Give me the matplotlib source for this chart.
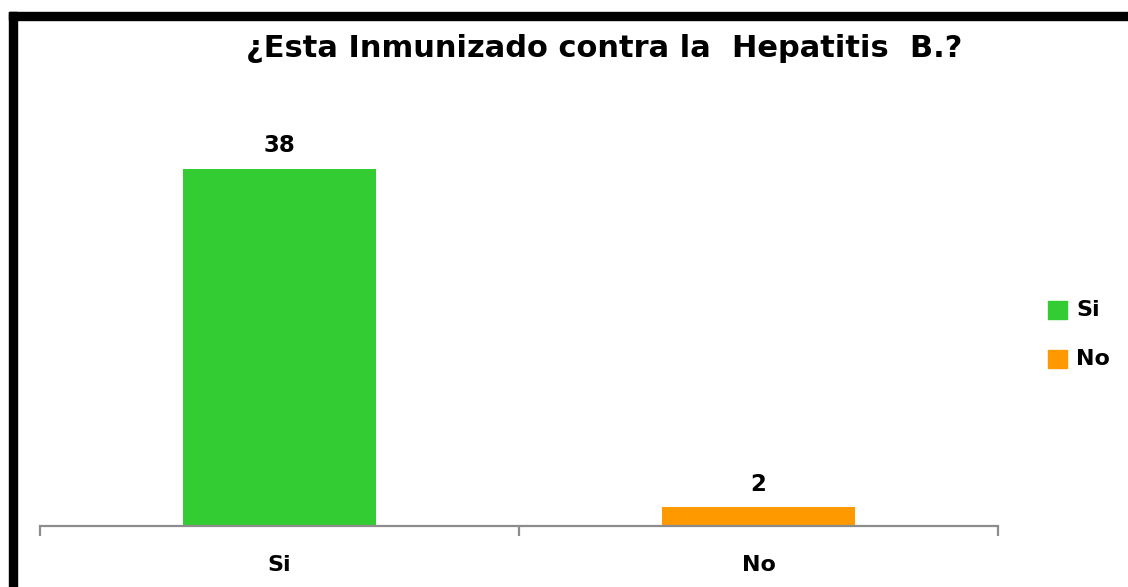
import matplotlib
matplotlib.use('Agg')
import matplotlib.pyplot as plt
from matplotlib.patches import Rectangle

categories = ['Si', 'No']
values = [38, 2]
colors = ['#33CC33', '#FF9900']

W, H = 1128, 587
fig = plt.figure(figsize=(W / 100, H / 100), dpi=100)
ax = fig.add_axes([40 / W, 61 / H, 958 / W, 423 / H])

x = range(len(categories))
bars = ax.bar(x, values, width=0.403, color=colors, zorder=1)

ax.set_xlim(-0.5, 1.5)
ax.set_ylim(0, 45)
ax.set_yticks([])
for s in ['top', 'right', 'left']:
    ax.spines[s].set_visible(False)
ax.spines['bottom'].set_color('#8c8c8c')
ax.spines['bottom'].set_linewidth(1.6)
ax.spines['bottom'].set_zorder(3)

ax.set_xticks(list(x))
ax.set_xticklabels(categories, fontsize=16, fontweight='bold', family='DejaVu Sans')
ax.tick_params(axis='x', which='major', length=0, pad=21)
ax.set_xticks([-0.5, 0.5, 1.5], minor=True)
ax.tick_params(axis='x', which='minor', length=7, width=1.6, color='#8c8c8c')

# data labels
for b, v in zip(bars, values):
    ax.annotate(str(v), (b.get_x() + b.get_width() / 2, v), xytext=(0, 12),
                textcoords='offset points', ha='center', va='baseline',
                fontsize=16.5, fontweight='bold', family='DejaVu Sans')

fig.text(604 / W, 1 - 57 / H, '¿Esta Inmunizado contra la  Hepatitis  B.?', ha='center', va='baseline',
         fontsize=22, fontweight='bold', family='DejaVu Sans')

# legend
for i, (lab, col) in enumerate(zip(categories, colors)):
    yc = 310 + i * 49
    fig.add_artist(Rectangle((1048 / W, 1 - (yc + 9) / H), 19 / W, 18 / H,
                             transform=fig.transFigure, color=col))
    fig.text(1076 / W, 1 - yc / H, lab, ha='left', va='center',
             fontsize=16, fontweight='bold', family='DejaVu Sans')

# frame border, only top and left edges are inside the picture
fig.add_artist(Rectangle((9 / W, -0.1), 8 / W, 1.1 - 12 / H,
                         transform=fig.transFigure, color='black'))
fig.add_artist(Rectangle((9 / W, 1 - 20 / H), 1.1, 8 / H,
                         transform=fig.transFigure, color='black'))

fig.savefig('out.png', dpi=100)
